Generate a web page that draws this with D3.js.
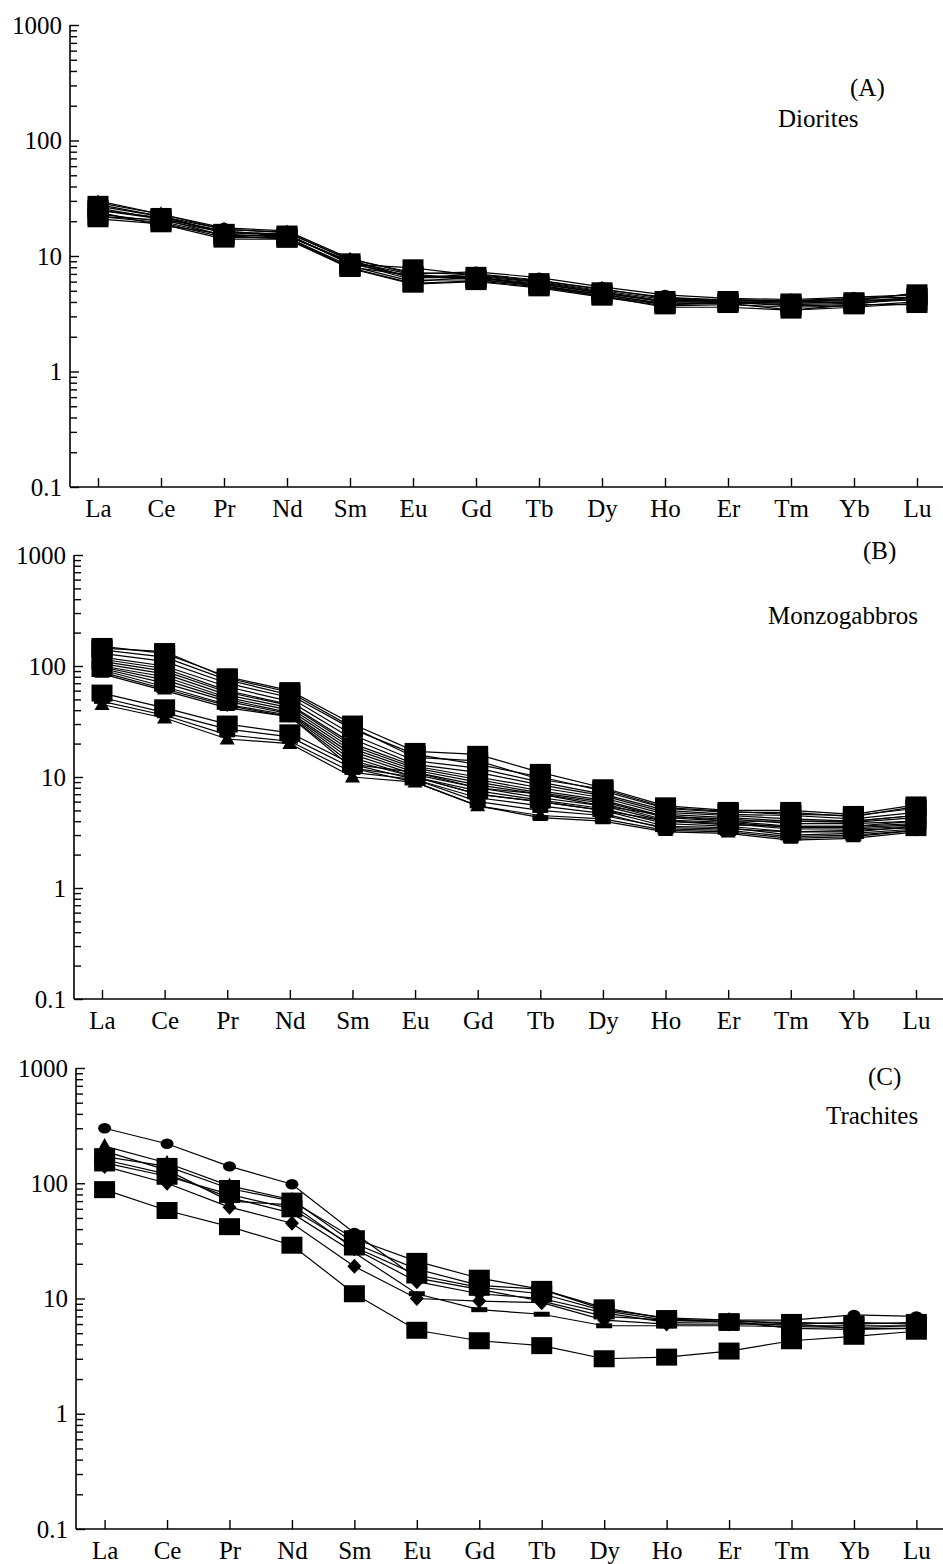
<!DOCTYPE html>
<html>
<head>
<meta charset="utf-8">
<script src="https://cdn.jsdelivr.net/npm/d3@7"></script>
<style>
  body { margin: 0; background: #fff; }
  text { font-family: "Liberation Serif", "DejaVu Serif", serif; fill: #000; }
</style>
</head>
<body>
<div id="chart"></div>
<script>
// REE names along the x axis
const elements = ["La", "Ce", "Pr", "Nd", "Sm", "Eu", "Gd", "Tb", "Dy", "Ho", "Er", "Tm", "Yb", "Lu"]
const yTickValues = [0.1, 1, 10, 100, 1000]
const yTickLabels = ["0.1", "1", "10", "100", "1000"]

// (A) Diorites, chondrite normalised
const dioriteValues = [
  [21, 19, 14, 14, 7.8, 5.7, 6.0, 5.3, 4.4, 3.7, 3.8, 3.6, 3.7, 4.0],
  [30, 23, 17.5, 16.5, 9.5, 7.0, 7.3, 6.5, 5.4, 4.6, 4.3, 4.2, 4.4, 4.6],
  [28, 22, 16, 15.5, 8.5, 7.9, 6.8, 6.0, 5.0, 4.2, 4.2, 4.0, 4.1, 4.8],
  [25, 21, 16.5, 15, 9.0, 6.5, 6.5, 5.8, 4.8, 4.0, 4.0, 3.9, 4.0, 4.3],
  [23, 20, 15, 15, 8.8, 6.2, 6.2, 5.6, 4.6, 3.9, 3.9, 3.8, 3.9, 4.2],
  [24, 18.5, 15.5, 14.5, 8.2, 6.0, 6.6, 5.5, 4.5, 3.6, 3.6, 3.4, 3.6, 3.9],
  [26, 21, 15, 14, 8.0, 6.8, 6.3, 5.5, 4.7, 3.8, 4.0, 3.7, 3.8, 4.5],
  [27, 22, 17, 16, 9.2, 6.4, 7.0, 6.2, 5.1, 4.4, 4.1, 4.1, 4.3, 4.4],
  [22, 20.5, 16, 15.5, 8.6, 6.6, 6.7, 5.9, 4.9, 4.1, 4.1, 4.0, 4.2, 4.1],
  [29, 23, 17, 16, 9.3, 7.2, 6.9, 6.1, 5.2, 4.3, 4.2, 4.1, 4.2, 4.7],
  [22, 19.5, 14.5, 14.5, 7.9, 5.8, 6.1, 5.4, 4.5, 3.8, 3.9, 3.4, 3.8, 3.8],
  [25, 21.5, 16, 15, 8.9, 6.9, 6.4, 5.7, 4.8, 4.0, 4.0, 3.9, 4.0, 4.4]
]
const dioriteMarkers = ["square", "circle", "square", "triangle", "diamond", "bar",
  "square", "circle", "diamond", "triangle", "square", "square"]

// (B) Monzogabbros
const monzogabbroValues = [
  [150, 130, 80, 60, 30, 17, 16, 11, 8, 5.5, 5.0, 5.0, 4.6, 5.6],
  [140, 120, 75, 55, 27, 16, 13, 10, 7.5, 5.2, 4.8, 4.8, 4.4, 5.4],
  [130, 110, 70, 52, 24, 14, 12, 9, 7, 5.0, 4.6, 4.5, 4.2, 4.8],
  [120, 100, 65, 48, 22, 13, 11, 8.5, 6.8, 4.8, 4.5, 4.2, 4.0, 4.5],
  [115, 95, 60, 45, 20, 12.5, 10, 8, 6.5, 4.6, 4.3, 4.0, 3.9, 4.3],
  [110, 90, 58, 44, 19, 12, 9.5, 7.5, 6.2, 4.4, 4.2, 3.8, 3.8, 4.0],
  [105, 85, 55, 42, 18, 11.5, 9, 7.2, 6, 4.3, 4.0, 3.6, 3.6, 3.8],
  [100, 80, 52, 40, 17, 11, 8.5, 7, 5.8, 4.1, 3.9, 3.5, 3.5, 3.7],
  [98, 75, 50, 38, 16, 10.5, 8, 6.5, 5.5, 4.0, 3.8, 3.4, 3.4, 3.6],
  [95, 70, 48, 37, 15, 10, 7.5, 6.2, 5.2, 3.8, 3.6, 3.2, 3.3, 3.5],
  [92, 65, 45, 36, 14, 10, 7, 6, 5, 3.6, 3.5, 3.0, 3.1, 3.4],
  [88, 62, 44, 35, 13, 9.5, 6.5, 5.5, 4.7, 3.4, 3.3, 2.9, 3.0, 3.3],
  [85, 60, 42, 35, 12, 9, 5.5, 4.3, 4.0, 3.2, 3.1, 2.7, 2.8, 3.2],
  [145, 135, 78, 58, 28, 15, 14, 9.5, 7.8, 5.3, 4.9, 4.6, 4.5, 5.2],
  [57, 42, 30, 25, 13, 11, 8, 7, 5.5, 4.5, 4.0, 4.0, 4.0, 4.5],
  [52, 38, 27, 23, 12, 10, 7, 6, 5, 4.0, 3.7, 3.6, 3.6, 4.0],
  [48, 36, 24, 21, 11, 9.5, 6, 5, 4.5, 3.5, 3.4, 3.2, 3.2, 3.6],
  [45, 34, 22, 20, 10, 9, 5.5, 4.5, 4.2, 3.3, 3.2, 2.8, 2.9, 3.3]
]
const monzogabbroMarkers = ["square", "square", "circle", "triangle", "diamond", "square",
  "bar", "circle", "triangle", "square", "diamond", "triangle", "bar", "square",
  "square", "triangle", "bar", "triangle"]

// (C) Trachites
const trachiteValues = [
  [300, 220, 140, 98, 37, 15, 12, 9.5, 7, 6.5, 6.5, 6.5, 7.2, 7],
  [88, 58, 42, 29, 11, 5.3, 4.3, 3.9, 3.0, 3.1, 3.5, 4.3, 4.7, 5.2],
  [170, 140, 90, 70, 33, 21, 15, 12, 8.3, 6.7, 6.2, 5.8, 5.8, 5.8],
  [140, 100, 62, 45, 19, 10, 9.5, 9.2, 6.5, 6.0, 6.0, 6.0, 5.5, 5.5],
  [210, 150, 95, 72, 30, 18, 13, 12, 8, 6.8, 6.5, 6.0, 6.2, 6.0],
  [160, 120, 75, 55, 25, 11, 8, 7.3, 5.8, 5.8, 5.8, 5.7, 5.6, 5.8],
  [150, 115, 80, 60, 28, 16, 12.5, 11, 7.8, 6.5, 6.3, 6.2, 6.0, 6.2],
  [190, 130, 70, 65, 27, 14, 11, 10, 7.5, 6.2, 6.3, 5.5, 5.4, 5.5]
]
const trachiteMarkers = ["circle", "square", "square", "diamond", "triangle", "bar", "square", "diamond"]

const svgWidth = 943
const svgHeight = 1564

let svg = d3.select("#chart")
  .append("svg")
  .attr("width", svgWidth)
  .attr("height", svgHeight)

function markerPath(type) {
  if (type == "square") return "M-10.5,-8.5h21v17h-21z"
  if (type == "bar") return "M-8,-2.5h16v5h-16z"
  if (type == "circle") return "M-6.5,0a6.5,5.2 0 1,0 13,0a6.5,5.2 0 1,0 -13,0z"
  if (type == "triangle") return "M0,-8L7.5,5.5L-7.5,5.5z"
  if (type == "diamond") return "M0,-7.5L7,0L0,7.5L-7,0z"
}

function renderPanel(p) {
  let x = d3.scalePoint()
    .domain(elements)
    .range([p.xFirst, p.xLast])
  let y = d3.scaleLog()
    .domain([0.1, 1000])
    .range([p.bottom, p.top])

  let g = svg.append("g")

  // minor ticks (2..9 of every decade)
  let minors = []
  for (let dec = 0.1; dec < 1000; dec *= 10) {
    for (let k = 2; k <= 9; k++) minors.push(+(dec * k).toPrecision(3))
  }
  g.append("g")
    .attr("transform", "translate(" + p.left + ",0)")
    .call(d3.axisLeft(y).tickValues(minors).tickSize(-7).tickFormat(""))
  let yAxis = g.append("g")
    .attr("transform", "translate(" + p.left + ",0)")
    .call(d3.axisLeft(y).tickValues(yTickValues).tickSize(-9).tickPadding(8)
      .tickFormat((d, i) => yTickLabels[i]))
  yAxis.selectAll("text").attr("font-size", "25px")

  let xAxis = g.append("g")
    .attr("transform", "translate(0," + p.bottom + ")")
    .call(d3.axisBottom(x).tickSize(-9).tickPadding(12))
  xAxis.selectAll("text").attr("font-size", "25px")

  g.selectAll(".domain").remove()
  g.selectAll(".tick line").attr("stroke", "#000").attr("stroke-width", 1.4)

  // axis lines
  g.append("line")
    .attr("x1", p.left).attr("x2", p.left)
    .attr("y1", p.top).attr("y2", p.bottom)
    .attr("stroke", "#000").attr("stroke-width", 1.6)
  g.append("line")
    .attr("x1", p.left).attr("x2", svgWidth)
    .attr("y1", p.bottom).attr("y2", p.bottom)
    .attr("stroke", "#000").attr("stroke-width", 1.6)

  // sample lines
  let line = d3.line()
    .x((d, i) => x(elements[i]))
    .y(d => y(d))
  g.selectAll(".sample")
    .data(p.values)
    .enter()
    .append("path")
    .attr("class", "sample")
    .attr("d", line)
    .attr("fill", "none")
    .attr("stroke", "#000")
    .attr("stroke-width", 1.2)

  // markers
  p.values.forEach((row, s) => {
    g.append("g")
      .selectAll("path")
      .data(row)
      .enter()
      .append("path")
      .attr("d", markerPath(p.markers[s]))
      .attr("transform", (d, i) => "translate(" + x(elements[i]) + "," + y(d) + ")")
      .attr("fill", "#000")
  })

  g.append("text")
    .attr("x", p.tagX).attr("y", p.tagY)
    .attr("font-size", "25px")
    .attr("dominant-baseline", "middle")
    .text(p.tag)
  g.append("text")
    .attr("x", p.nameX).attr("y", p.nameY)
    .attr("font-size", "25px")
    .attr("dominant-baseline", "middle")
    .text(p.name)
}

renderPanel({
  left: 70, top: 25, bottom: 487, xFirst: 98, xLast: 917,
  values: dioriteValues, markers: dioriteMarkers,
  tag: "(A)", tagX: 850, tagY: 90, name: "Diorites", nameX: 778, nameY: 121
})
renderPanel({
  left: 74, top: 555, bottom: 999, xFirst: 102, xLast: 916,
  values: monzogabbroValues, markers: monzogabbroMarkers,
  tag: "(B)", tagX: 863, tagY: 553, name: "Monzogabbros", nameX: 768, nameY: 618
})
renderPanel({
  left: 76, top: 1068, bottom: 1529, xFirst: 104.6, xLast: 916.4,
  values: trachiteValues, markers: trachiteMarkers,
  tag: "(C)", tagX: 868, tagY: 1079, name: "Trachites", nameX: 826, nameY: 1118
})
</script>
</body>
</html>
